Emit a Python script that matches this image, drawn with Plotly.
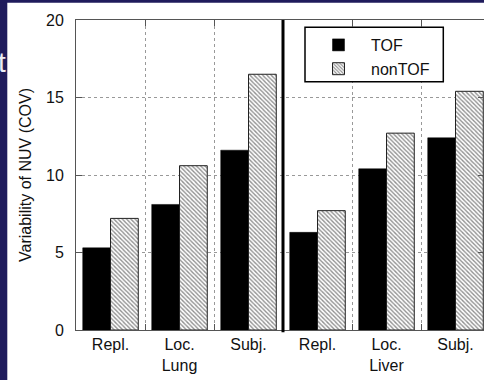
import plotly.graph_objects as go

# Variability of NUV (coefficient of variation, %) by measurement type and organ
regions = ["Lung", "Liver"]
measures = ["Repl.", "Loc.", "Subj."]
tof_cov = [5.3, 8.1, 11.6, 6.3, 10.4, 12.4]
nontof_cov = [7.2, 10.6, 16.5, 7.7, 12.7, 15.4]
y_ticks = [0, 5, 10, 15, 20]

categories = [f"{m} {r}" for r in regions for m in measures]
tick_text = []
for r in regions:
    for i, m in enumerate(measures):
        tick_text.append(f"{m}<br>{r}" if i == len(measures) // 2 else m)

W, H = 484, 380
ML, MR, MT, MB = 76, 0, 20, 50
PW, PH = W - ML - MR, H - MT - MB
GROUP_PX = 69  # width of one category slot


def px_x(px):
    return (px - ML) / PW


def px_y(py):
    return (H - MB - py) / PH


NAVY = "#1f1b5c"
FONT = "Liberation Sans, Arial, Helvetica, sans-serif"

fig = go.Figure()
fig.add_trace(go.Bar(
    name="TOF", x=categories, y=tof_cov,
    marker=dict(color="black", line=dict(color="black", width=0.5)),
))
fig.add_trace(go.Bar(
    name="nonTOF", x=categories, y=nontof_cov,
    marker=dict(
        color="white",
        line=dict(color="#222222", width=1),
        pattern=dict(shape="\\", fgcolor="#222222", bgcolor="white",
                     size=3, solidity=0.45, fillmode="overlay"),
    ),
))

# thick divider between the lung and liver groups
split = len(measures) - 0.5
fig.add_shape(type="line", xref="x", yref="y domain",
              x0=split, x1=split, y0=-0.007, y1=1,
              line=dict(color="black", width=3), layer="above")

# legend frame
fig.add_shape(type="rect", xref="paper", yref="paper",
              x0=px_x(305), x1=px_x(443.3), y0=px_y(81.7), y1=px_y(27.3),
              fillcolor="white", line=dict(color="black", width=1.5), layer="above")

# dark slide frame on the left and top edges
fig.add_shape(type="rect", xref="paper", yref="paper",
              x0=px_x(-2), x1=px_x(7.3), y0=px_y(-2), y1=px_y(H + 2),
              fillcolor=NAVY, line=dict(width=0), layer="below")
fig.add_shape(type="rect", xref="paper", yref="paper",
              x0=px_x(-2), x1=px_x(W + 2), y0=px_y(2.7), y1=px_y(-2),
              fillcolor=NAVY, line=dict(width=0), layer="below")
fig.add_annotation(text="t", xref="paper", yref="paper",
                   x=px_x(7.5), y=px_y(63), xanchor="right", yanchor="middle",
                   showarrow=False, font=dict(family=FONT, size=28, color="#ececf4"))

fig.update_layout(
    width=W, height=H,
    margin=dict(l=ML, r=MR, t=MT, b=MB, pad=0),
    paper_bgcolor="white", plot_bgcolor="white",
    barmode="group", bargap=0.195, bargroupgap=0,
    font=dict(family=FONT, size=16, color="#111111"),
    showlegend=True,
    legend=dict(
        x=px_x(306), y=px_y(28), xanchor="left", yanchor="top",
        bgcolor="rgba(0,0,0,0)", borderwidth=0,
        font=dict(family=FONT, size=16, color="#111111"),
        itemwidth=55, tracegroupgap=0,
    ),
    xaxis=dict(
        type="category", categoryorder="array", categoryarray=categories,
        range=[-0.5, -0.5 + PW / GROUP_PX],
        tickmode="array", tickvals=categories, ticktext=tick_text,
        tickson="boundaries", ticks="inside", ticklen=6, tickcolor="#555555",
        showgrid=True, gridcolor="#999999", griddash="dot", gridwidth=1,
        showline=True, linecolor="#555555", linewidth=1, mirror="ticks",
        tickfont=dict(family=FONT, size=16, color="#111111"),
        automargin=False,
    ),
    yaxis=dict(
        range=[0, 20], tickmode="array", tickvals=y_ticks,
        ticks="inside", ticklen=6, tickcolor="#555555",
        showgrid=True, gridcolor="#999999", griddash="dot", gridwidth=1,
        zeroline=False,
        showline=True, linecolor="#555555", linewidth=1, mirror="ticks",
        tickfont=dict(family=FONT, size=16, color="#111111"),
        ticklabelstandoff=8,
        title=dict(text="Variability of NUV (COV)", standoff=10,
                   font=dict(family=FONT, size=16, color="#111111")),
        automargin=False,
    ),
)

fig.write_html("out.html")
